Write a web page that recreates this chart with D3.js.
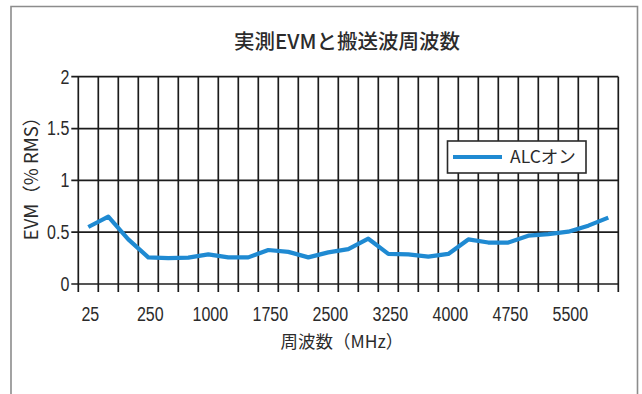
<!DOCTYPE html>
<html>
<head>
<meta charset="utf-8">
<script src="https://cdn.jsdelivr.net/npm/d3@7"></script>
<style>
  html, body { margin: 0; padding: 0; background: #fff; }
  svg { display: block; }
</style>
</head>
<body>
<svg id="chart" width="642" height="394"></svg>
<script>
// Carrier frequency points (MHz) along the category axis
const frequencies = [25, 50, 100, 250, 500, 750, 1000, 1250, 1500, 1750, 2000, 2250, 2500,
  2750, 3000, 3250, 3500, 3750, 4000, 4250, 4500, 4750, 5000, 5250, 5500, 5750, 6000];
// Measured EVM (% RMS) with ALC on
const evmAlcOn = [0.55, 0.65, 0.43, 0.257, 0.25, 0.255, 0.286, 0.257, 0.257, 0.328, 0.31, 0.257, 0.305,
  0.337, 0.437, 0.29, 0.285, 0.264, 0.29, 0.43, 0.40, 0.40, 0.466, 0.482, 0.505, 0.563, 0.64];
// Labelled frequencies and EVM ticks
const xTickLabels = [25, 250, 1000, 1750, 2500, 3250, 4000, 4750, 5500];
const yTickValues = [0, 0.5, 1, 1.5, 2];
const seriesName = "ALCオン";

const svg = d3.select("#chart");
const numFont = "'Liberation Sans', Arial, sans-serif";
const jpFont = "'Noto Sans CJK JP', 'Noto Sans', sans-serif";
const ink = "#2b2b2b";
const lineColor = "#1f8ad2";
const narrow = "scale(0.8,1)"; // condensed numerals

// Panel frame (open at the bottom edge)
svg.append("path")
  .attr("d", "M11,400 V6.5 H637.5 V400")
  .attr("fill", "none")
  .attr("stroke", "#8c8c8c")
  .attr("stroke-width", 1.6);

const x = d3.scaleBand().domain(frequencies).range([78.3, 618.3]).padding(0);
const y = d3.scaleLinear().domain([0, 2]).range([284, 76.7]);

// Title
svg.append("text")
  .attr("x", 347).attr("y", 49)
  .attr("text-anchor", "middle")
  .attr("font-family", jpFont).attr("font-size", 20.5).attr("font-weight", 500)
  .attr("fill", ink)
  .text("実測EVMと搬送波周波数");

const grid = svg.append("g").attr("stroke", "#1c1c1c").attr("stroke-width", 1.7);

// Vertical grid lines on every category boundary, continuing below as tick marks
const boundaries = frequencies.map(f => x(f)).concat([x.range()[1]]);
grid.selectAll("line.v").data(boundaries).join("line")
  .attr("class", "v")
  .attr("x1", d => d).attr("x2", d => d)
  .attr("y1", y(2)).attr("y2", y(0) + 8);

// Horizontal grid lines, extended left as tick marks
grid.selectAll("line.h").data(yTickValues).join("line")
  .attr("class", "h")
  .attr("x1", x.range()[0] - 7).attr("x2", x.range()[1])
  .attr("y1", d => y(d)).attr("y2", d => y(d));

// Y tick labels
const yAxis = svg.append("g")
  .attr("transform", `translate(${x.range()[0] - 9},0)`)
  .call(d3.axisLeft(y).tickValues(yTickValues).tickSize(0).tickPadding(0).tickFormat(d3.format("")));
yAxis.select(".domain").remove();
yAxis.selectAll("text")
  .attr("font-family", numFont).attr("font-size", 20).attr("fill", ink)
  .attr("transform", narrow);

// X tick labels (every third frequency)
const xAxis = svg.append("g")
  .attr("transform", `translate(2,${y(0)})`)
  .call(d3.axisBottom(x).tickValues(xTickLabels).tickSize(0).tickPadding(23));
xAxis.select(".domain").remove();
xAxis.selectAll("text")
  .attr("font-family", numFont).attr("font-size", 20).attr("fill", ink)
  .attr("transform", narrow);

// Axis titles
svg.append("text")
  .attr("transform", "translate(38,174) rotate(-90)")
  .attr("text-anchor", "middle")
  .attr("font-family", jpFont).attr("font-size", 18.5)
  .attr("fill", ink)
  .text("EVM（% RMS）");

svg.append("text")
  .attr("x", 342).attr("y", 348)
  .attr("text-anchor", "middle")
  .attr("font-family", jpFont).attr("font-size", 17.5)
  .attr("fill", ink)
  .text("周波数（MHz）");

// EVM series
const line = d3.line()
  .x((d, i) => x(frequencies[i]) + x.bandwidth() / 2)
  .y(d => y(d));
svg.append("path")
  .datum(evmAlcOn)
  .attr("d", line)
  .attr("fill", "none")
  .attr("stroke", lineColor)
  .attr("stroke-width", 4.2)
  .attr("stroke-linejoin", "round")
  .attr("stroke-linecap", "butt");

// Legend
const legend = svg.append("g");
legend.append("rect")
  .attr("x", 447.5).attr("y", 141)
  .attr("width", 138.5).attr("height", 32)
  .attr("fill", "#fff")
  .attr("stroke", "#2a2a2a").attr("stroke-width", 1.6);
legend.append("line")
  .attr("x1", 453).attr("x2", 502)
  .attr("y1", 157).attr("y2", 157)
  .attr("stroke", lineColor).attr("stroke-width", 4.2);
legend.append("text")
  .attr("x", 510).attr("y", 163)
  .attr("font-family", jpFont).attr("font-size", 17.5)
  .attr("fill", ink)
  .text(seriesName);
</script>
</body>
</html>
